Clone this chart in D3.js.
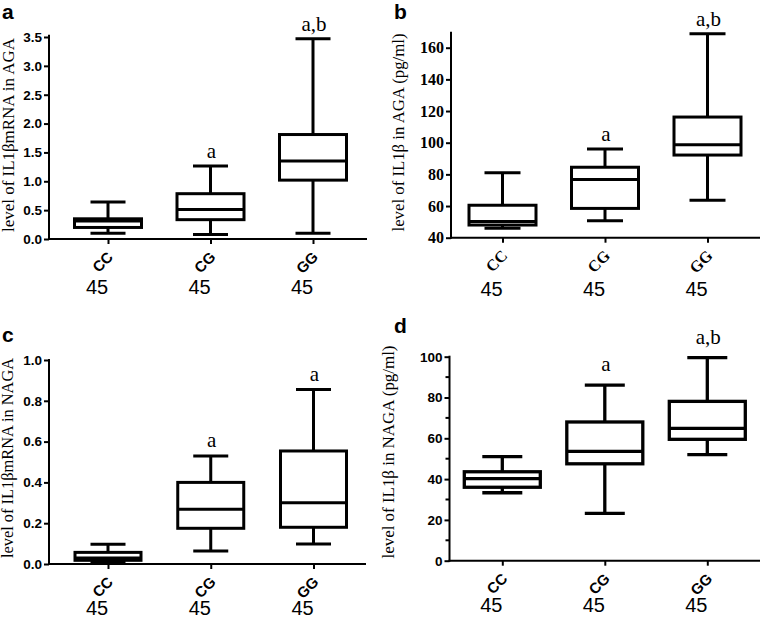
<!DOCTYPE html>
<html><head><meta charset="utf-8">
<script src="https://cdn.jsdelivr.net/npm/d3@7"></script>
<style>body{margin:0;background:#fff}svg{display:block}</style>
</head><body><svg id="chart" width="761" height="619"></svg>
<script>
// ---------- data ----------
const categories = ["CC", "CG", "GG"];
const groupSizes = ["45", "45", "45"];
const panelLetters = ["a", "b", "c", "d"];
// each box: [min, q1, median, q3, max]
const aBoxes = [[0.10, 0.20, 0.31, 0.35, 0.64], [0.08, 0.335, 0.51, 0.785, 1.265], [0.10, 1.02, 1.35, 1.81, 3.47]];
const bBoxes = [[46, 48, 50.3, 60.5, 81], [50.7, 58.5, 76.8, 84.5, 96], [63.6, 92.2, 98.7, 116.2, 168.8]];
const cBoxes = [[0.012, 0.018, 0.03, 0.057, 0.097], [0.064, 0.175, 0.268, 0.40, 0.53], [0.098, 0.18, 0.30, 0.554, 0.855]];
const dBoxes = [[33.3, 36, 40.2, 43.6, 51], [23.2, 47.5, 53.6, 68, 86.1], [52, 59.5, 64.9, 78.1, 99.5]];
const aMarks = ["", "a", "a,b"];
const bMarks = ["", "a", "a,b"];
const cMarks = ["", "a", "a"];
const dMarks = ["", "a", "a,b"];
const aTicks = [0, 0.5, 1.0, 1.5, 2.0, 2.5, 3.0, 3.5];
const bTicks = [40, 60, 80, 100, 120, 140, 160];
const cTicks = [0, 0.2, 0.4, 0.6, 0.8, 1.0];
const dTicks = [0, 20, 40, 60, 80, 100];
const dMinorTicks = [10, 30, 50, 70, 90];
const aTitle = "level of IL1βmRNA in AGA";
const bTitle = "level of IL1β in AGA (pg/ml)";
const cTitle = "level of IL1βmRNA in NAGA";
const dTitle = "level of IL1β in NAGA (pg/ml)";

// ---------- layout ----------
const panels = [
  {letter: panelLetters[0], boxes: aBoxes, marks: aMarks, ticks: aTicks, minor: [], title: aTitle, fmt: d3.format(".1f"),
   ax: 49, axEnd: 367, yPix: [239, 37], dom: [0, 3.5], axTop: 3.52, cat: [108, 313], boxW: 67, capW: 35, sw: 3,
   serif: false, titleX: 14, titleY: 135, titleLen: 194, nBase: 294, letterXY: [2, 19], markGap: 8},
  {letter: panelLetters[1], boxes: bBoxes, marks: bMarks, ticks: bTicks, minor: [], title: bTitle, fmt: d3.format("d"),
   ax: 451, axEnd: 760, yPix: [237.7, 47.7], dom: [40, 160], axTop: 169.5, cat: [502.5, 707.5], boxW: 67, capW: 36, sw: 3,
   serif: true, titleX: 404, titleY: 132.5, titleLen: 198, nBase: 296, letterXY: [394, 19], markGap: 8},
  {letter: panelLetters[2], boxes: cBoxes, marks: cMarks, ticks: cTicks, minor: [], title: cTitle, fmt: d3.format(".1f"),
   ax: 49, axEnd: 366, yPix: [564, 360], dom: [0, 1.0], axTop: 1.0, cat: [108, 313.5], boxW: 66, capW: 35, sw: 3,
   serif: false, titleX: 13, titleY: 458, titleLen: 200, nBase: 615, letterXY: [2, 342], markGap: 9},
  {letter: panelLetters[3], boxes: dBoxes, marks: dMarks, ticks: dTicks, minor: dMinorTicks, title: dTitle, fmt: d3.format("d"),
   ax: 449.5, axEnd: 760, yPix: [560.7, 356.7], dom: [0, 100], axTop: 100, cat: [502.3, 707.3], boxW: 76, capW: 40, sw: 3.3,
   serif: false, titleX: 394, titleY: 452, titleLen: 213, nBase: 612, letterXY: [394, 333], markGap: 14}
];

const SANS = "'Liberation Sans', Arial, sans-serif";
const SERIF = "'Liberation Serif', 'Times New Roman', serif";
const svg = d3.select("#chart");

panels.forEach(p => {
  const g = svg.append("g");
  const y = d3.scaleLinear().domain(p.dom).range(p.yPix);
  const x = d3.scalePoint().domain(categories).range(p.cat);
  const base = y(p.dom[0]);

  // y axis
  const yAxis = d3.axisLeft(y).tickValues(p.ticks).tickFormat(p.fmt).tickSizeOuter(0).tickSize(5).tickPadding(2);
  const ya = g.append("g").attr("transform", `translate(${p.ax},0)`).call(yAxis);
  ya.select(".domain").remove();
  ya.append("line").attr("x1", 0).attr("x2", 0).attr("y1", y(p.axTop) - 1).attr("y2", base + 1)
    .attr("stroke", "#000").attr("stroke-width", 2);
  ya.selectAll(".tick line").attr("stroke", "#000").attr("stroke-width", 2);
  ya.selectAll(".tick text").attr("fill", "#000")
    .style("font-family", p.serif ? SERIF : SANS).style("font-weight", "bold")
    .style("font-size", p.serif ? "16px" : "13.5px");
  if (p.minor.length) {
    g.append("g").selectAll("line").data(p.minor).join("line")
      .attr("x1", p.ax - 4).attr("x2", p.ax).attr("y1", d => y(d)).attr("y2", d => y(d))
      .attr("stroke", "#000").attr("stroke-width", 2);
  }

  // x axis
  g.append("line").attr("x1", p.ax - 1).attr("x2", p.axEnd).attr("y1", base).attr("y2", base)
    .attr("stroke", "#000").attr("stroke-width", 2);
  const xAxis = d3.axisBottom(x).tickSize(5).tickSizeOuter(0).tickFormat("");
  const xa = g.append("g").attr("transform", `translate(0,${base})`).call(xAxis);
  xa.select(".domain").remove();
  xa.selectAll(".tick line").attr("stroke", "#000").attr("stroke-width", 2);

  // category labels (rotated) and group sizes
  categories.forEach((c, i) => {
    const cx = x(c);
    g.append("text").text(c)
      .attr("transform", `translate(${cx + 6},${base + 19}) rotate(-45)`)
      .attr("text-anchor", "end")
      .style("font-family", p.serif ? SERIF : SANS).style("font-weight", "bold")
      .style("font-size", p.serif ? "16px" : "15px").attr("fill", "#000");
    g.append("text").text(groupSizes[i])
      .attr("x", cx - 11).attr("y", p.nBase).attr("text-anchor", "middle")
      .style("font-family", SANS).style("font-size", "20px").attr("fill", "#000");
  });

  // boxes
  p.boxes.forEach((b, i) => {
    const cx = x(categories[i]);
    const [mn, q1, md, q3, mx] = b;
    const bg = g.append("g").attr("stroke", "#000").attr("stroke-width", p.sw).attr("fill", "none");
    bg.append("line").attr("x1", cx).attr("x2", cx).attr("y1", y(mx)).attr("y2", y(q3));
    bg.append("line").attr("x1", cx).attr("x2", cx).attr("y1", y(q1)).attr("y2", y(mn));
    bg.append("line").attr("x1", cx - p.capW / 2).attr("x2", cx + p.capW / 2).attr("y1", y(mx)).attr("y2", y(mx));
    bg.append("line").attr("x1", cx - p.capW / 2).attr("x2", cx + p.capW / 2).attr("y1", y(mn)).attr("y2", y(mn));
    bg.append("rect").attr("x", cx - p.boxW / 2).attr("width", p.boxW)
      .attr("y", y(q3)).attr("height", y(q1) - y(q3)).attr("fill", "#fff");
    bg.append("line").attr("x1", cx - p.boxW / 2).attr("x2", cx + p.boxW / 2).attr("y1", y(md)).attr("y2", y(md));
    if (p.marks[i]) {
      g.append("text").text(p.marks[i]).attr("x", cx + 1).attr("y", y(mx) - p.markGap)
        .attr("text-anchor", "middle").style("font-family", SERIF).style("font-size", "21px").attr("fill", "#000");
    }
  });

  // y title
  g.append("text").text(p.title)
    .attr("transform", `translate(${p.titleX},${p.titleY}) rotate(-90)`)
    .attr("text-anchor", "middle").attr("textLength", p.titleLen).attr("lengthAdjust", "spacingAndGlyphs")
    .style("font-family", SERIF).style("font-size", "16px").attr("fill", "#000");

  // panel letter
  g.append("text").text(p.letter).attr("x", p.letterXY[0]).attr("y", p.letterXY[1])
    .style("font-family", SANS).style("font-weight", "bold").style("font-size", "21px").attr("fill", "#000");
});
</script></body></html>
